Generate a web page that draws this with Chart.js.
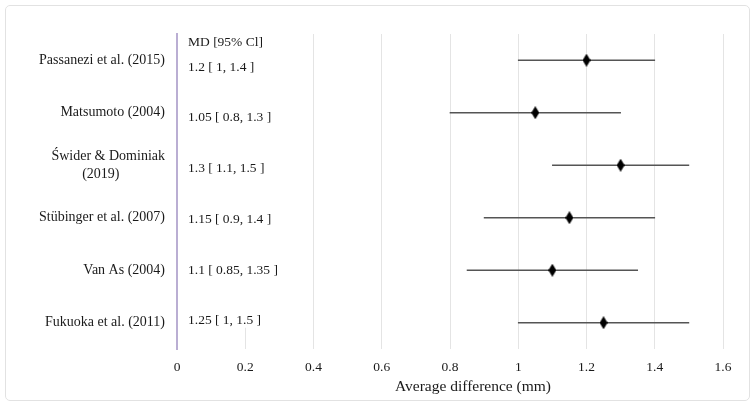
<!DOCTYPE html>
<html>
<head>
<meta charset="utf-8">
<script src="https://cdn.jsdelivr.net/npm/chart.js@4/dist/chart.umd.min.js"></script>
<style>
  html, body { margin: 0; padding: 0; background: #fff; }
  #wrap { position: relative; width: 755px; height: 407px; }
  #moldura { position: absolute; left: 5px; top: 5px; width: 745px; height: 396px; box-sizing: border-box;
    border: 1px solid #e2e2e2; border-radius: 5px; pointer-events: none; }
</style>
</head>
<body>
<div id="wrap">
  <canvas id="forest" width="755" height="407"></canvas>
  <div id="moldura"></div>
</div>
<script>
// dados do gráfico
const estudos = ['Passanezi et al. (2015)', 'Matsumoto (2004)', ['Świder & Dominiak', '(2019)' + '\u00a0'.repeat(13)],
  'Stübinger et al. (2007)', 'Van As (2004)', 'Fukuoka et al. (2011)']
const md = [1.2, 1.05, 1.3, 1.15, 1.1, 1.25]
const icInferior = [1, 0.8, 1.1, 0.9, 0.85, 1]
const icSuperior = [1.4, 1.3, 1.5, 1.4, 1.35, 1.5]
const tituloColuna = 'MD [95% Cl]'
const tituloEixoX = 'Average difference (mm)'

const fonte = "'Liberation Serif', 'Times New Roman', serif"

// marcador em losango
const losango = document.createElement('canvas')
losango.width = 8
losango.height = 13
const lctx = losango.getContext('2d')
lctx.beginPath()
lctx.moveTo(4, 0)
lctx.lineTo(8, 6.5)
lctx.lineTo(4, 13)
lctx.lineTo(0, 6.5)
lctx.closePath()
lctx.fillStyle = '#000'
lctx.fill()

// textos da coluna MD e título do eixo
const textosExtras = {
    id: 'textosExtras',
    beforeDatasetsDraw(chart) {
        const { ctx, chartArea, scales: { x, y } } = chart
        const x0 = x.getPixelForValue(0)
        // caixa branca da coluna de texto por cima das grades
        ctx.save()
        ctx.fillStyle = '#fff'
        ctx.fillRect(x0 + 2, chartArea.top, x.getPixelForValue(0.3) - x0 - 2, y.getPixelForValue(estudos.length - 1) + 5 - chartArea.top)
        ctx.restore()
    },
    afterDraw(chart) {
        const { ctx, chartArea, scales: { x, y } } = chart
        const x0 = x.getPixelForValue(0) + 11
        ctx.save()
        ctx.fillStyle = '#1a1a1a'
        ctx.textAlign = 'left'
        ctx.textBaseline = 'middle'
        ctx.font = '13.5px ' + fonte
        ctx.fillText(tituloColuna, x0, chartArea.top + 8)
        for (let i = 0; i < md.length; i++) {
            const texto = md[i] + ' [ ' + icInferior[i] + ', ' + icSuperior[i] + ' ]'
            ctx.fillText(texto, x0, y.getPixelForValue(i) + 7 - 1.8 * i)
        }
        ctx.font = '15.5px ' + fonte
        ctx.textAlign = 'center'
        ctx.fillText(tituloEixoX, (chartArea.left + chartArea.right) / 2 + 23, 387)
        ctx.restore()
    }
}

new Chart(document.getElementById('forest'), {
    data: {
        labels: estudos,
        datasets: [{
            type: 'bar',
            label: 'IC 95%',
            indexAxis: 'y',
            data: icInferior.map((v, i) => [v, icSuperior[i]]),
            backgroundColor: '#555555',
            barThickness: 1,
            order: 1
        }, {
            type: 'line',
            label: 'MD',
            data: md.map((v, i) => ({ x: v, y: i })),
            showLine: false,
            pointStyle: losango,
            order: 0
        }]
    },
    options: {
        responsive: false,
        animation: false,
        layout: { padding: { top: 34, right: 32, bottom: 0, left: 0 } },
        plugins: { legend: { display: false }, tooltip: { enabled: false } },
        scales: {
            x: {
                type: 'linear',
                min: 0,
                max: 1.6,
                afterFit: (escala) => { escala.height = 58 },
                grid: {
                    color: (c) => c.tick && c.tick.value === 0 ? 'rgba(0,0,0,0)' : '#e4e4e4',
                    drawTicks: false
                },
                border: { display: false },
                ticks: {
                    stepSize: 0.2, padding: 10, color: '#1a1a1a', font: { family: fonte, size: 13.5 },
                    callback: (v) => String(Number(v.toFixed(1)))
                }
            },
            y: {
                type: 'category',
                afterFit: (escala) => { escala.width = 177 },
                grid: { color: 'rgba(0,0,0,0)', drawTicks: false },
                border: { display: true, color: '#baaed3', width: 2 },
                ticks: { padding: 12, color: '#1a1a1a', font: { family: fonte, size: 14, lineHeight: 1.3 } }
            }
        }
    },
    plugins: [textosExtras]
})
</script>
</body>
</html>
